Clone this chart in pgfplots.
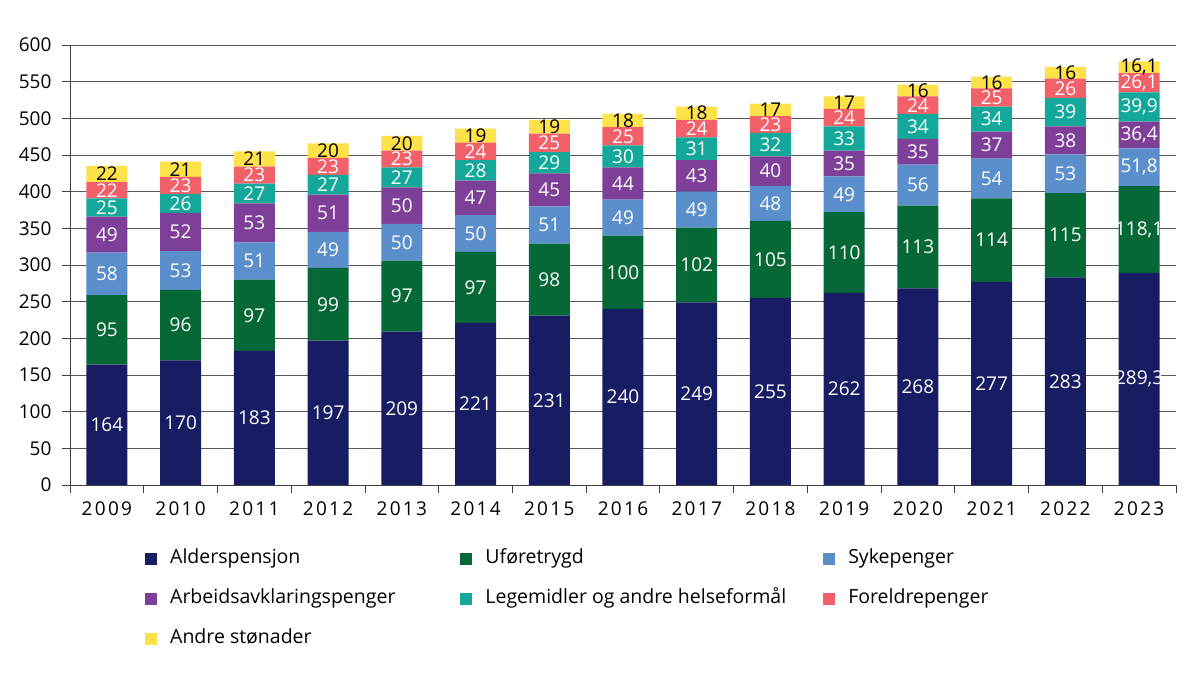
\documentclass[border=0pt]{standalone}
\usepackage{pgfplots}
\pgfplotsset{compat=1.18}
\usepackage{pgfplotstable}
\usepackage{fontspec}
\setmainfont{Open Sans}
\newfontfamily\yearfont[LetterSpace=12]{Open Sans}

\definecolor{alder}{HTML}{181C62}
\definecolor{ufor}{HTML}{066837}
\definecolor{syke}{HTML}{5A8FCC}
\definecolor{aap}{HTML}{7D3F98}
\definecolor{lege}{HTML}{13A89A}
\definecolor{foreld}{HTML}{F2606A}
\definecolor{andre}{HTML}{FFE14A}

% x = 0 for 2009 ... 14 for 2023
\pgfplotstableread{
x  alder  ufor   syke  aap   lege  foreld andre
0  164    95     58    49    25    22     22
1  170    96     53    52    26    23     21
2  183    97     51    53    27    23     21
3  197    99     49    51    27    23     20
4  209    97     50    50    27    23     20
5  221    97     50    47    28    24     19
6  231    98     51    45    29    25     19
7  240    100    49    44    30    25     18
8  249    102    49    43    31    24     18
9  255    105    48    40    32    23     17
10 262    110    49    35    33    24     17
11 268    113    56    35    34    24     16
12 277    114    54    37    34    25     16
13 283    115    53    38    39    26     16
14 289.3  118.1  51.8  36.4  39.9  26.1   16.1
}\utgifter

\pgfplotsset{
  sq legend/.style={legend image code/.code={\fill[##1] (0pt,-6pt) rectangle (12pt,6pt);}},
}

\begin{document}
\begin{tikzpicture}
\path[use as bounding box] (0pt,0pt) rectangle (1200pt,674pt);
\begin{axis}[
  at={(70pt,189pt)}, anchor=south west,
  scale only axis, width=1106pt, height=440pt,
  ybar stacked, bar width=41pt,
  xmin=-0.5, xmax=14.5, ymin=0, ymax=600,
  axis x line*=bottom, axis y line*=left,
  axis line style={black!75, line width=0.8pt},
  ytick={0,50,...,600},
  ymajorgrids, grid style={black!65, line width=0.8pt},
  xtick={-0.5,0.5,...,14.5},
  xticklabels={2009,2010,2011,2012,2013,2014,2015,2016,2017,2018,2019,2020,2021,2022,2023,{}},
  xticklabel style={xshift=36.87pt, yshift=-5pt, font=\yearfont\fontsize{19}{22}\selectfont},
  yticklabel style={xshift=-7pt, font=\fontsize{19}{22}\selectfont},
  tick align=outside, major tick length=8pt,
  tick style={black!75, line width=0.8pt},
  /pgf/number format/assume math mode=true,
  /pgf/number format/use comma,
  /pgf/number format/fixed,
  /pgf/number format/precision=1,
  point meta=explicit,
  nodes near coords,
  nodes near coords align=center,
  every node near coord/.append style={font=\fontsize{19}{22}\selectfont,
    text=white, inner sep=0pt},
  legend columns=3,
  legend cell align=left,
  legend style={at={(0.0678,-0.15)}, anchor=north west, draw=none, fill=none,
    inner sep=0pt, font=\fontsize{19.5}{22}\selectfont,
    nodes={inner sep=0pt, text height=12.5pt, text depth=4pt},
    row sep=23.5pt,
    /tikz/every odd column/.append style={column sep=13pt},
    /tikz/column 2/.append style={column sep=65pt},
    /tikz/column 4/.append style={column sep=37pt}},
]
\addplot[fill=alder, draw=none, sq legend] table[x=x, y=alder, meta=alder] {\utgifter};
\addplot[fill=ufor, draw=none, sq legend] table[x=x, y=ufor, meta=ufor] {\utgifter};
\addplot[fill=syke, draw=none, sq legend] table[x=x, y=syke, meta=syke] {\utgifter};
\addplot[fill=aap, draw=none, sq legend] table[x=x, y=aap, meta=aap] {\utgifter};
\addplot[fill=lege, draw=none, sq legend] table[x=x, y=lege, meta=lege] {\utgifter};
\addplot[fill=foreld, draw=none, sq legend] table[x=x, y=foreld, meta=foreld] {\utgifter};
\addplot[fill=andre, draw=none, sq legend,
  every node near coord/.append style={text=black}] table[x=x, y=andre, meta=andre] {\utgifter};
\legend{Alderspensjon, Uføretrygd, Sykepenger, Arbeidsavklaringspenger,
  Legemidler og andre helseformål, Foreldrepenger, Andre stønader}
\end{axis}
\end{tikzpicture}
\end{document}
